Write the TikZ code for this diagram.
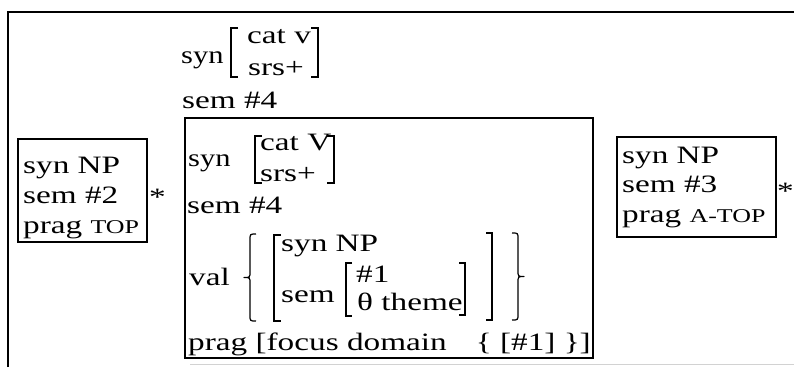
\documentclass[tikz,border=0pt]{standalone}
\usepackage{fontspec}
\usepackage{graphicx}
\setmainfont{Liberation Serif}
\newcommand{\W}[1]{\scalebox{1.33}[1]{#1}}
\newcommand{\Wn}[1]{\scalebox{1.22}[1]{#1}}
\newcommand{\smcaps}[1]{{\fontsize{19.5}{24}\selectfont #1}}
\tikzset{
  txt/.style={anchor=base west, inner sep=0pt, font=\fontsize{25}{30}\selectfont},
  boxline/.style={line width=1.5pt},
  brk/.style={line width=1.3pt},
  brc/.style={line width=1.2pt, line join=round}
}
\begin{document}
\begin{tikzpicture}[x=1pt,y=-1pt]
\useasboundingbox (0,0) rectangle (794,367);
\fill[white] (0,0) rectangle (794,367);
% outer frame
\draw[boxline] (8,367) -- (8,12) -- (794,12);
\draw[gray!35, line width=1pt] (190,364) -- (794,364);

% left box
\draw[boxline] (18,139) rectangle (147,242);
\node[txt] (l1) at (23,173) {\W{syn NP}};
\node[txt] (l2) at (23,203) {\W{sem \#2}};
\node[txt] (l3) at (23,233) {\W{prag \smcaps{TOP}}};
\node[txt] (ls) at (149,205) {\W{*}};

% top feature structure
\node[txt] (t1) at (181,63) {\Wn{syn}};
\draw[brk] (238,28) -- (231,28) -- (231,77) -- (238,77);
\node[txt] (t2) at (247,43) {\W{cat v}};
\node[txt] (t3) at (248,75) {\W{srs+}};
\draw[brk] (311,28) -- (318,28) -- (318,77) -- (311,77);
\node[txt] (t4) at (182,108) {\W{sem \#4}};

% central box
\draw[boxline] (185,118) rectangle (593,358);
\node[txt] (c1) at (188,166) {\Wn{syn}};
\draw[brk] (262,136) -- (255,136) -- (255,183) -- (262,183);
\node[txt] (c2) at (260,150) {\W{cat V}};
\node[txt] (c3) at (260,181) {\W{srs+}};
\draw[brk] (327,136) -- (334,136) -- (334,183) -- (327,183);
\node[txt] (c4) at (187,213) {\W{sem \#4}};
\node[txt] (c5) at (189,285) {\W{val}};
% opening brace
\draw[brc] (256,234) .. controls (250,234) .. (250,240) -- (250,271.5)
  .. controls (250,277.5) .. (244,277.5) .. controls (250,277.5) .. (250,283.5)
  -- (250,315) .. controls (250,321) .. (256,321);
\draw[brk] (281,235) -- (274,235) -- (274,321) -- (281,321);
\node[txt] (c6) at (281,251) {\W{syn NP}};
\node[txt] (c7) at (281,302) {\W{sem}};
\draw[brk] (352,263) -- (346,263) -- (346,316) -- (352,316);
\node[txt] (c8) at (356,282) {\W{\#1}};
\node[txt] (c9) at (357,310) {\W{θ theme}};
\draw[brk] (459,263) -- (465,263) -- (465,315) -- (459,315);
\draw[brk] (486,233) -- (492,233) -- (492,320) -- (486,320);
% closing brace
\draw[brc] (512,233) .. controls (518,233) .. (518,239) -- (518,270.5)
  .. controls (518,276.5) .. (524,276.5) .. controls (518,276.5) .. (518,282.5)
  -- (518,314) .. controls (518,320) .. (512,320);
\node[txt] (c10) at (188,350) {\W{prag [focus domain}};
\node[txt, anchor=base east] (c11) at (591,350) {\W{\{ [\#1] \}]}};

% right box
\draw[boxline] (617,137) rectangle (776,237);
\node[txt] (r1) at (622,163) {\W{syn NP}};
\node[txt] (r2) at (622,192) {\W{sem \#3}};
\node[txt] (r3) at (622,222) {\W{prag \smcaps{A-TOP}}};
\node[txt] (rs) at (777,199) {\W{*}};
\end{tikzpicture}
\end{document}
